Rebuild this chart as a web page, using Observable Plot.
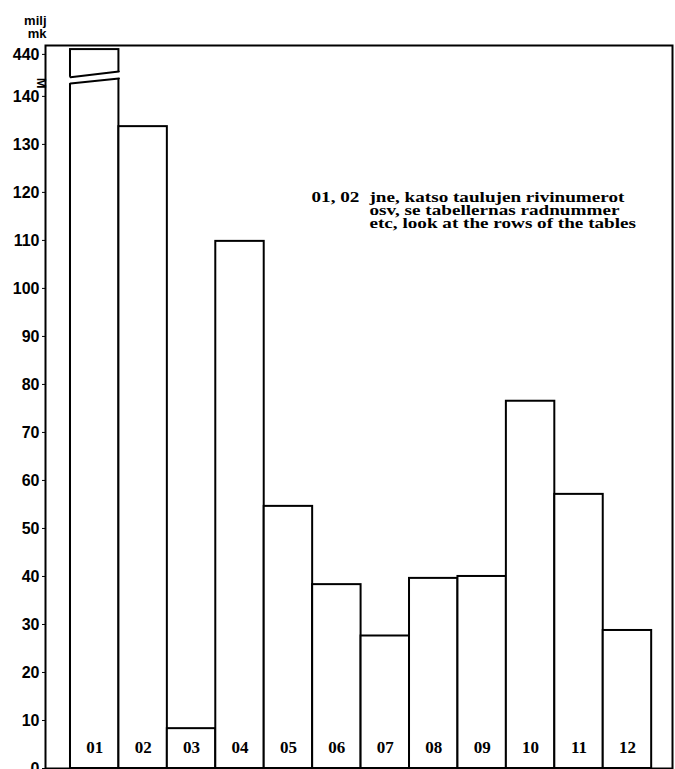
<!DOCTYPE html>
<html>
<head>
<meta charset="utf-8">
<script src="https://cdn.jsdelivr.net/npm/d3@7"></script>
<script src="https://cdn.jsdelivr.net/npm/@observablehq/plot@0.6"></script>
<style>
  body { margin: 0; background: #fff; }
  svg { display: block; }
</style>
</head>
<body>
<div id="chart"></div>
<script>
// ---- data ----
const categories = ["01","02","03","04","05","06","07","08","09","10","11","12"];
const values = [441, 133.7, 8.3, 109.8, 54.6, 38.3, 27.6, 39.6, 40.0, 76.5, 57.1, 28.75];
const yTicks = [0,10,20,30,40,50,60,70,80,90,100,110,120,130,140,440];
const unitLabel = "milj\nmk";
const noteLead = "01, 02";
const noteLines = ["jne, katso taulujen rivinumerot", "osv, se tabellernas radnummer", "etc, look at the rows of the tables"];

// ---- broken axis mapping ----
const BREAK_FROM = 300, BREAK_SHIFT = 291.25;
const disp = v => v > BREAK_FROM ? v - BREAK_SHIFT : v;
const undisp = d => d > 145 ? Math.round(d + BREAK_SHIFT) : d;
const cutLow = [142.7, 143.75];   // top edge of lower piece (left, right)
const cutHigh = [144.0, 145.2];   // bottom edge of upper piece (left, right)

const bars = categories.map((c, i) => ({c, i, v: values[i], d: disp(values[i])}));
const broken = bars.filter(b => b.v > BREAK_FROM);
const lerp = (a, t) => a[0] + (a[1] - a[0]) * t;
const gapArea = broken.flatMap(b => [-0.04, 1.04].map(t => ({x: b.i + t, lo: lerp(cutLow, t), hi: lerp(cutHigh, t)})));
const cutEdges = broken.flatMap(b => [0, 1].map(t => ({x: b.i + t, lo: lerp(cutLow, t), hi: lerp(cutHigh, t)})));

const serif = "'Liberation Serif', 'Times New Roman', serif";
const sans = "'Liberation Sans', Arial, Helvetica, sans-serif";

const noteMarks = noteLines.map((line, i) =>
  Plot.text([line], {frameAnchor: "top-left", textAnchor: "start", lineAnchor: "middle",
    dx: 324, dy: 151.5 + i * 13.2, fontFamily: serif, fontSize: 14.5, fontWeight: "bold", fill: "black"}));

const chart = Plot.plot({
  width: 675,
  height: 769,
  marginLeft: 45,
  marginRight: 3,
  marginTop: 45,
  marginBottom: 1,
  style: {fontFamily: sans, fontSize: "16px", fontWeight: "bold", color: "black", background: "white"},
  x: {type: "linear", domain: [-0.516, 12.43], axis: null},
  y: {type: "linear", domain: [0, 150.6]},
  marks: [
    Plot.rect(bars, {x1: d => d.i, x2: d => d.i + 1, y1: 0, y2: "d", fill: "white", stroke: "black", strokeWidth: 2}),
    Plot.areaY(gapArea, {x: "x", y1: "lo", y2: "hi", fill: "white"}),
    Plot.line(cutEdges, {x: "x", y: "lo", stroke: "black", strokeWidth: 2}),
    Plot.line(cutEdges, {x: "x", y: "hi", stroke: "black", strokeWidth: 2}),
    Plot.text(bars, {x: d => d.i + 0.5, y: 4.4, text: "c", fontFamily: serif, fontWeight: "bold", fontSize: 17, fill: "black"}),
    Plot.frame({stroke: "black", strokeWidth: 2}),
    Plot.axisY(yTicks.map(disp), {anchor: "left", tickSize: 3, tickPadding: 3, tickFormat: undisp, fontSize: 16, fontWeight: "bold", stroke: "black", label: null}),
    Plot.text([0], {frameAnchor: "left", y: () => (cutLow[1] + cutHigh[0]) / 2, text: () => "M", rotate: 90, dx: -4, fontSize: 13, fontWeight: "bold", fill: "black"}),
    Plot.text([unitLabel], {frameAnchor: "top-left", textAnchor: "end", lineAnchor: "middle", lineHeight: 1.0, dy: -18.5, dx: 1, fontSize: 13, fontWeight: "bold", fill: "black"}),
    Plot.text([noteLead], {frameAnchor: "top-left", textAnchor: "start", lineAnchor: "middle", dx: 266, dy: 151.5, fontFamily: serif, fontSize: 14.5, fontWeight: "bold", fill: "black"}),
    ...noteMarks
  ]
});
document.getElementById("chart").appendChild(chart);

// the reference's note type is set wide: stretch it horizontally
const noteTexts = new Set([noteLead, ...noteLines]);
d3.select(chart).selectAll("text")
  .filter(function() { return noteTexts.has(this.textContent); })
  .each(function() {
    const len = this.getComputedTextLength();
    this.setAttribute("textLength", (len * 1.32).toFixed(1));
    this.setAttribute("lengthAdjust", "spacingAndGlyphs");
  });
// unit label letters are spaced a little
d3.select(chart).selectAll("text")
  .filter(function() { return this.textContent === "milj" || this.textContent === "mk"; })
  .style("letter-spacing", "1.2px");
</script>
</body>
</html>
